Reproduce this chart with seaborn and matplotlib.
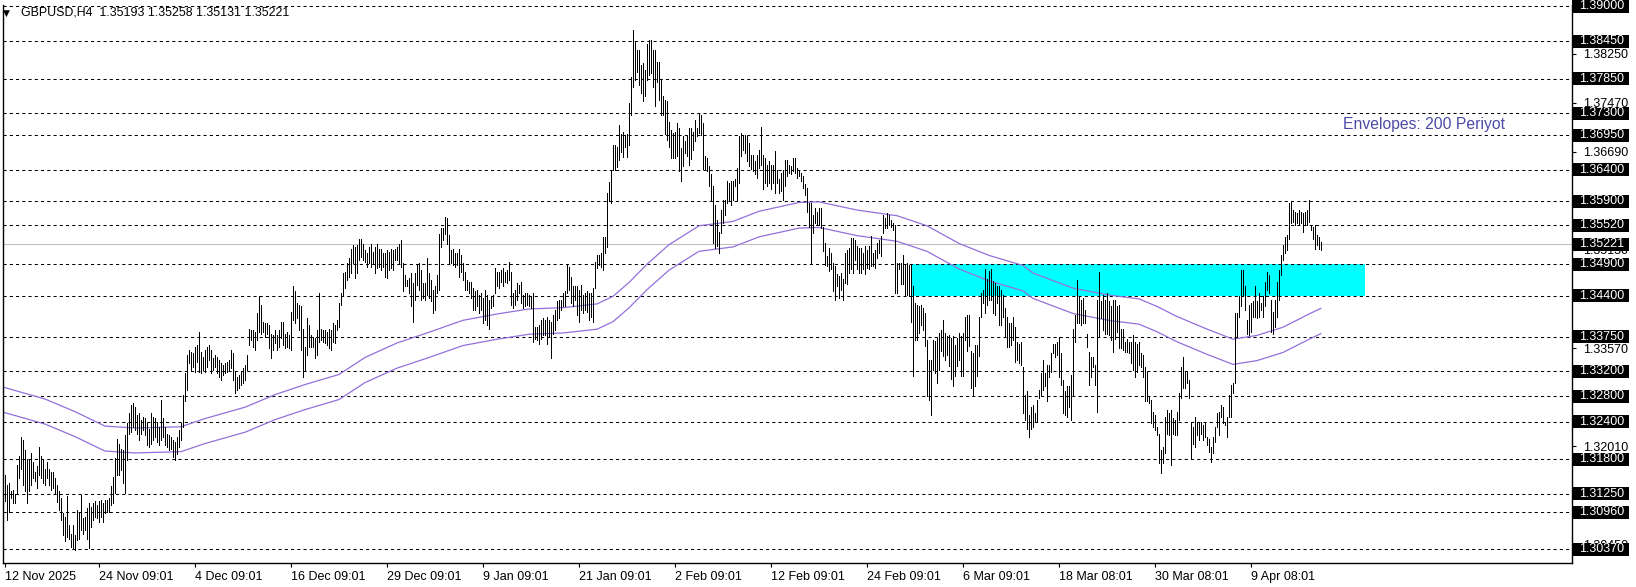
import matplotlib
matplotlib.use("Agg")
import matplotlib.pyplot as plt
import matplotlib.transforms as mtransforms
from matplotlib.patches import Rectangle
import numpy as np
import seaborn as sns

# ---------------- DATA ----------------
symbol_title = "GBPUSD,H4  1.35193 1.35258 1.35131 1.35221"
last_price = 1.35221

# bar highs (H4 bars, left to right)
highs = [
    1.3155, 1.3140, 1.3142, 1.3130, 1.3131, 1.3125, 1.3171, 1.3185, 1.3216, 1.3210,
    1.3195, 1.3180, 1.3180, 1.3190, 1.3175, 1.3160, 1.3170, 1.3200, 1.3185, 1.3180,
    1.3165, 1.3175, 1.3165, 1.3160, 1.3160, 1.3150, 1.3140, 1.3130, 1.3118, 1.3095,
    1.3088, 1.3121, 1.3076, 1.3062, 1.3076, 1.3060, 1.3100, 1.3094, 1.3123, 1.3086,
    1.3089, 1.3102, 1.3110, 1.3105, 1.3110, 1.3113, 1.3107, 1.3113, 1.3115, 1.3110,
    1.3115, 1.3115, 1.3118, 1.3137, 1.3152, 1.3182, 1.3213, 1.3205, 1.3197, 1.3195,
    1.3219, 1.3237, 1.3253, 1.3266, 1.3269, 1.3264, 1.3251, 1.3253, 1.3243, 1.3248,
    1.3245, 1.3237, 1.3229, 1.3253, 1.3248, 1.3245, 1.3240, 1.3232, 1.3274, 1.3245,
    1.3232, 1.3221, 1.3219, 1.3216, 1.3211, 1.3208, 1.3216, 1.3227, 1.3237, 1.3282,
    1.3317, 1.3346, 1.3354, 1.3351, 1.3349, 1.3359, 1.3362, 1.3383, 1.3351, 1.3343,
    1.3354, 1.3359, 1.3362, 1.3354, 1.3341, 1.3346, 1.3343, 1.3338, 1.3333, 1.3330,
    1.3333, 1.3335, 1.3338, 1.3354, 1.3349, 1.3319, 1.3311, 1.3314, 1.3319, 1.3325,
    1.3330, 1.3346, 1.3388, 1.3386, 1.3386, 1.3383, 1.3412, 1.3439, 1.3426, 1.3399,
    1.3396, 1.3396, 1.3394, 1.3380, 1.3378, 1.3386, 1.3378, 1.3386, 1.3399, 1.3399,
    1.3380, 1.3383, 1.3378, 1.3415, 1.3455, 1.3447, 1.3428, 1.3426, 1.3423, 1.3388,
    1.3359, 1.3404, 1.3394, 1.3378, 1.3375, 1.3373, 1.3386, 1.3444, 1.3388, 1.3386,
    1.3386, 1.3383, 1.3388, 1.3386, 1.3396, 1.3394, 1.3402, 1.3428, 1.3444, 1.3476,
    1.3478, 1.3492, 1.3500, 1.3515, 1.3521, 1.3518, 1.3521, 1.3531, 1.3531, 1.3523,
    1.3513, 1.3508, 1.3518, 1.3523, 1.3510, 1.3518, 1.3523, 1.3515, 1.3515, 1.3508,
    1.3508, 1.3513, 1.3510, 1.3515, 1.3513, 1.3515, 1.3518, 1.3523, 1.3529, 1.3492,
    1.3473, 1.3465, 1.3468, 1.3476, 1.3460, 1.3476, 1.3489, 1.3492, 1.3481, 1.3460,
    1.3460, 1.3500, 1.3476, 1.3465, 1.3449, 1.3455, 1.3473, 1.3539, 1.3547, 1.3547,
    1.3566, 1.3563, 1.3537, 1.3513, 1.3515, 1.3508, 1.3508, 1.3515, 1.3505, 1.3492,
    1.3478, 1.3465, 1.3462, 1.3462, 1.3452, 1.3447, 1.3449, 1.3441, 1.3444, 1.3436,
    1.3449, 1.3441, 1.3433, 1.3439, 1.3441, 1.3484, 1.3478, 1.3478, 1.3481, 1.3484,
    1.3478, 1.3481, 1.3494, 1.3478, 1.3444, 1.3449, 1.3460, 1.3457, 1.3462, 1.3441,
    1.3444, 1.3444, 1.3441, 1.3439, 1.3444, 1.3391, 1.3391, 1.3394, 1.3402, 1.3404,
    1.3402, 1.3407, 1.3402, 1.3399, 1.3410, 1.3417, 1.3431, 1.3433, 1.3433, 1.3444,
    1.3447, 1.3489, 1.3486, 1.3470, 1.3455, 1.3455, 1.3455, 1.3449, 1.3457, 1.3441,
    1.3444, 1.3447, 1.3444, 1.3444, 1.3452, 1.3494, 1.3505, 1.3505, 1.3508, 1.3534,
    1.3534, 1.3603, 1.3621, 1.3640, 1.3680, 1.3680, 1.3677, 1.3712, 1.3698, 1.3701,
    1.3696, 1.3698, 1.3746, 1.3788, 1.3863, 1.3844, 1.3831, 1.3831, 1.3807, 1.3810,
    1.3799, 1.3841, 1.3847, 1.3847, 1.3831, 1.3831, 1.3812, 1.3812, 1.3783, 1.3757,
    1.3751, 1.3749, 1.3717, 1.3703, 1.3699, 1.3701, 1.3715, 1.3707, 1.3675, 1.3694,
    1.3686, 1.3694, 1.3707, 1.3707, 1.3701, 1.3720, 1.3707, 1.3731, 1.3728, 1.3715,
    1.3662, 1.3659, 1.3646, 1.3633, 1.3614, 1.3585, 1.3561, 1.3542, 1.3577, 1.3593,
    1.3593, 1.3622, 1.3619, 1.3622, 1.3622, 1.3625, 1.3643, 1.3694, 1.3699, 1.3694,
    1.3696, 1.3694, 1.3683, 1.3664, 1.3664, 1.3654, 1.3664, 1.3672, 1.3709, 1.3664,
    1.3659, 1.3648, 1.3654, 1.3648, 1.3648, 1.3670, 1.3640, 1.3625, 1.3635, 1.3640,
    1.3656, 1.3656, 1.3648, 1.3646, 1.3659, 1.3659, 1.3643, 1.3640, 1.3635, 1.3630,
    1.3617, 1.3611, 1.3588, 1.3588, 1.3569, 1.3580, 1.3574, 1.3580, 1.3580, 1.3550,
    1.3524, 1.3503, 1.3516, 1.3508, 1.3492, 1.3487, 1.3474, 1.3471, 1.3476, 1.3466,
    1.3508, 1.3513, 1.3516, 1.3532, 1.3532, 1.3529, 1.3519, 1.3516, 1.3516, 1.3508,
    1.3519, 1.3513, 1.3519, 1.3535, 1.3508, 1.3513, 1.3524, 1.3529, 1.3535, 1.3569,
    1.3564, 1.3572, 1.3569, 1.3561, 1.3556, 1.3553, 1.3492, 1.3492, 1.3492, 1.3505,
    1.3489, 1.3492, 1.3489, 1.3489, 1.3455, 1.3429, 1.3426, 1.3423, 1.3426, 1.3421,
    1.3413, 1.3370, 1.3338, 1.3338, 1.3370, 1.3368, 1.3373, 1.3381, 1.3386, 1.3402,
    1.3381, 1.3376, 1.3378, 1.3373, 1.3376, 1.3362, 1.3373, 1.3381, 1.3376, 1.3381,
    1.3407, 1.3410, 1.3410, 1.3352, 1.3349, 1.3362, 1.3362, 1.3407, 1.3444, 1.3450,
    1.3482, 1.3466, 1.3479, 1.3482, 1.3463, 1.3460, 1.3455, 1.3455, 1.3449, 1.3441,
    1.3420, 1.3407, 1.3396, 1.3396, 1.3407, 1.3391, 1.3367, 1.3364, 1.3367, 1.3327,
    1.3282, 1.3288, 1.3250, 1.3264, 1.3266, 1.3253, 1.3274, 1.3290, 1.3317, 1.3338,
    1.3317, 1.3330, 1.3330, 1.3349, 1.3364, 1.3364, 1.3367, 1.3375, 1.3349, 1.3306,
    1.3288, 1.3296, 1.3296, 1.3314, 1.3388, 1.3409, 1.3465, 1.3439, 1.3433, 1.3436,
    1.3417, 1.3380, 1.3351, 1.3343, 1.3343, 1.3330, 1.3433, 1.3478, 1.3431, 1.3441,
    1.3433, 1.3444, 1.3431, 1.3423, 1.3433, 1.3433, 1.3423, 1.3425, 1.3388, 1.3388,
    1.3367, 1.3372, 1.3367, 1.3367, 1.3378, 1.3367, 1.3364, 1.3367, 1.3349, 1.3346,
    1.3327, 1.3319, 1.3280, 1.3274, 1.3256, 1.3250, 1.3232, 1.3221, 1.3195, 1.3200,
    1.3248, 1.3258, 1.3253, 1.3258, 1.3245, 1.3243, 1.3256, 1.3285, 1.3327, 1.3343,
    1.3319, 1.3319, 1.3306, 1.3237, 1.3232, 1.3248, 1.3240, 1.3240, 1.3240, 1.3235,
    1.3237, 1.3216, 1.3213, 1.3200, 1.3216, 1.3232, 1.3253, 1.3256, 1.3266, 1.3264,
    1.3240, 1.3248, 1.3282, 1.3298, 1.3301, 1.3412, 1.3412, 1.3439, 1.3481, 1.3481,
    1.3455, 1.3402, 1.3425, 1.3428, 1.3431, 1.3455, 1.3431, 1.3444, 1.3428, 1.3439,
    1.3462, 1.3478, 1.3473, 1.3433, 1.3415, 1.3433, 1.3462, 1.3481, 1.3505, 1.3521,
    1.3534, 1.3537, 1.3587, 1.3590, 1.3576, 1.3574, 1.3571, 1.3576, 1.3574, 1.3571,
    1.3574, 1.3576, 1.3592, 1.3553, 1.3550, 1.3553, 1.3537, 1.3534, 1.35258,
]

# bar lows
lows = [
    1.3113, 1.3084, 1.3097, 1.3118, 1.3110, 1.3110, 1.3125, 1.3150, 1.3165, 1.3140,
    1.3130, 1.3110, 1.3130, 1.3140, 1.3150, 1.3145, 1.3135, 1.3155, 1.3150, 1.3142,
    1.3140, 1.3150, 1.3140, 1.3132, 1.3135, 1.3127, 1.3112, 1.3100, 1.3083, 1.3060,
    1.3050, 1.3057, 1.3054, 1.3041, 1.3039, 1.3036, 1.3052, 1.3054, 1.3068, 1.3062,
    1.3068, 1.3054, 1.3039, 1.3073, 1.3084, 1.3089, 1.3086, 1.3081, 1.3089, 1.3081,
    1.3094, 1.3097, 1.3097, 1.3108, 1.3110, 1.3126, 1.3155, 1.3155, 1.3163, 1.3142,
    1.3126, 1.3179, 1.3221, 1.3224, 1.3232, 1.3227, 1.3221, 1.3211, 1.3221, 1.3227,
    1.3219, 1.3203, 1.3200, 1.3205, 1.3211, 1.3216, 1.3208, 1.3203, 1.3211, 1.3216,
    1.3203, 1.3200, 1.3195, 1.3197, 1.3184, 1.3179, 1.3189, 1.3200, 1.3211, 1.3232,
    1.3272, 1.3290, 1.3333, 1.3322, 1.3327, 1.3319, 1.3335, 1.3319, 1.3317, 1.3322,
    1.3319, 1.3327, 1.3338, 1.3317, 1.3322, 1.3327, 1.3317, 1.3311, 1.3306, 1.3314,
    1.3317, 1.3319, 1.3322, 1.3325, 1.3306, 1.3285, 1.3290, 1.3293, 1.3298, 1.3301,
    1.3306, 1.3322, 1.3362, 1.3370, 1.3359, 1.3354, 1.3370, 1.3383, 1.3380, 1.3383,
    1.3375, 1.3380, 1.3357, 1.3341, 1.3354, 1.3365, 1.3354, 1.3359, 1.3373, 1.3362,
    1.3357, 1.3359, 1.3357, 1.3354, 1.3402, 1.3396, 1.3404, 1.3386, 1.3354, 1.3311,
    1.3322, 1.3346, 1.3359, 1.3359, 1.3359, 1.3341, 1.3346, 1.3367, 1.3370, 1.3367,
    1.3365, 1.3362, 1.3357, 1.3354, 1.3367, 1.3365, 1.3386, 1.3391, 1.3425, 1.3439,
    1.3452, 1.3465, 1.3470, 1.3476, 1.3492, 1.3468, 1.3476, 1.3497, 1.3502, 1.3497,
    1.3494, 1.3486, 1.3492, 1.3486, 1.3492, 1.3476, 1.3484, 1.3486, 1.3481, 1.3486,
    1.3470, 1.3468, 1.3481, 1.3484, 1.3481, 1.3497, 1.3497, 1.3492, 1.3486, 1.3447,
    1.3455, 1.3455, 1.3444, 1.3423, 1.3399, 1.3433, 1.3457, 1.3449, 1.3433, 1.3436,
    1.3433, 1.3441, 1.3436, 1.3431, 1.3412, 1.3417, 1.3444, 1.3449, 1.3518, 1.3529,
    1.3539, 1.3523, 1.3492, 1.3492, 1.3489, 1.3486, 1.3489, 1.3470, 1.3478, 1.3465,
    1.3449, 1.3449, 1.3444, 1.3436, 1.3417, 1.3417, 1.3423, 1.3412, 1.3417, 1.3396,
    1.3402, 1.3394, 1.3388, 1.3420, 1.3423, 1.3444, 1.3455, 1.3452, 1.3462, 1.3455,
    1.3462, 1.3460, 1.3465, 1.3425, 1.3420, 1.3425, 1.3433, 1.3444, 1.3428, 1.3420,
    1.3423, 1.3425, 1.3423, 1.3420, 1.3367, 1.3372, 1.3370, 1.3364, 1.3372, 1.3378,
    1.3378, 1.3364, 1.3375, 1.3341, 1.3380, 1.3386, 1.3402, 1.3404, 1.3417, 1.3423,
    1.3423, 1.3444, 1.3449, 1.3428, 1.3423, 1.3433, 1.3410, 1.3399, 1.3417, 1.3412,
    1.3417, 1.3415, 1.3402, 1.3407, 1.3399, 1.3452, 1.3484, 1.3489, 1.3486, 1.3481,
    1.3508, 1.3518, 1.3590, 1.3587, 1.3640, 1.3640, 1.3645, 1.3656, 1.3669, 1.3661,
    1.3677, 1.3661, 1.3680, 1.3727, 1.3772, 1.3783, 1.3796, 1.3775, 1.3762, 1.3749,
    1.3757, 1.3783, 1.3791, 1.3794, 1.3772, 1.3741, 1.3780, 1.3751, 1.3727, 1.3727,
    1.3698, 1.3688, 1.3677, 1.3659, 1.3659, 1.3659, 1.3662, 1.3638, 1.3622, 1.3646,
    1.3667, 1.3662, 1.3648, 1.3657, 1.3672, 1.3686, 1.3694, 1.3699, 1.3696, 1.3641,
    1.3641, 1.3638, 1.3614, 1.3593, 1.3524, 1.3516, 1.3519, 1.3508, 1.3540, 1.3556,
    1.3569, 1.3588, 1.3593, 1.3585, 1.3593, 1.3614, 1.3593, 1.3619, 1.3662, 1.3672,
    1.3667, 1.3654, 1.3646, 1.3641, 1.3638, 1.3633, 1.3627, 1.3643, 1.3648, 1.3609,
    1.3619, 1.3614, 1.3619, 1.3609, 1.3619, 1.3603, 1.3619, 1.3603, 1.3606, 1.3593,
    1.3614, 1.3630, 1.3635, 1.3633, 1.3638, 1.3635, 1.3627, 1.3630, 1.3622, 1.3611,
    1.3601, 1.3574, 1.3550, 1.3492, 1.3540, 1.3556, 1.3553, 1.3553, 1.3548, 1.3511,
    1.3489, 1.3487, 1.3479, 1.3482, 1.3447, 1.3434, 1.3455, 1.3437, 1.3450, 1.3434,
    1.3460, 1.3458, 1.3476, 1.3482, 1.3476, 1.3497, 1.3482, 1.3476, 1.3476, 1.3482,
    1.3474, 1.3484, 1.3482, 1.3487, 1.3487, 1.3484, 1.3500, 1.3508, 1.3503, 1.3540,
    1.3548, 1.3548, 1.3553, 1.3550, 1.3545, 1.3444, 1.3444, 1.3482, 1.3458, 1.3458,
    1.3442, 1.3442, 1.3439, 1.3399, 1.3312, 1.3370, 1.3370, 1.3381, 1.3394, 1.3386,
    1.3360, 1.3280, 1.3275, 1.3251, 1.3322, 1.3317, 1.3301, 1.3322, 1.3352, 1.3344,
    1.3338, 1.3346, 1.3328, 1.3307, 1.3296, 1.3312, 1.3328, 1.3338, 1.3312, 1.3312,
    1.3370, 1.3352, 1.3360, 1.3293, 1.3283, 1.3296, 1.3312, 1.3344, 1.3407, 1.3429,
    1.3413, 1.3426, 1.3434, 1.3434, 1.3413, 1.3409, 1.3428, 1.3394, 1.3394, 1.3407,
    1.3375, 1.3359, 1.3359, 1.3362, 1.3370, 1.3335, 1.3338, 1.3333, 1.3330, 1.3253,
    1.3243, 1.3229, 1.3216, 1.3229, 1.3232, 1.3240, 1.3240, 1.3277, 1.3280, 1.3290,
    1.3296, 1.3272, 1.3311, 1.3319, 1.3349, 1.3343, 1.3346, 1.3311, 1.3298, 1.3253,
    1.3250, 1.3247, 1.3264, 1.3243, 1.3280, 1.3367, 1.3396, 1.3396, 1.3394, 1.3396,
    1.3396, 1.3359, 1.3298, 1.3311, 1.3327, 1.3298, 1.3256, 1.3375, 1.3404, 1.3386,
    1.3380, 1.3380, 1.3378, 1.3370, 1.3351, 1.3372, 1.3383, 1.3357, 1.3357, 1.3354,
    1.3351, 1.3351, 1.3349, 1.3333, 1.3322, 1.3311, 1.3319, 1.3330, 1.3327, 1.3311,
    1.3272, 1.3272, 1.3269, 1.3237, 1.3232, 1.3227, 1.3219, 1.3174, 1.3158, 1.3174,
    1.3190, 1.3221, 1.3219, 1.3171, 1.3221, 1.3219, 1.3219, 1.3243, 1.3277, 1.3293,
    1.3293, 1.3301, 1.3277, 1.3182, 1.3205, 1.3200, 1.3219, 1.3211, 1.3221, 1.3211,
    1.3216, 1.3203, 1.3192, 1.3176, 1.3190, 1.3208, 1.3232, 1.3219, 1.3247, 1.3237,
    1.3235, 1.3216, 1.3248, 1.3248, 1.3285, 1.3301, 1.3375, 1.3407, 1.3423, 1.3439,
    1.3417, 1.3380, 1.3378, 1.3383, 1.3407, 1.3407, 1.3404, 1.3407, 1.3417, 1.3407,
    1.3423, 1.3449, 1.3444, 1.3383, 1.3380, 1.3391, 1.3407, 1.3433, 1.3473, 1.3497,
    1.3508, 1.3513, 1.3531, 1.3555, 1.3558, 1.3553, 1.3555, 1.3553, 1.3555, 1.3542,
    1.3553, 1.3553, 1.3558, 1.3545, 1.3531, 1.3515, 1.3521, 1.3515, 1.35131,
]

# 200-period moving average behind the Envelopes indicator (read at sample bars)
ma_index = [-1, 20, 35, 50, 65, 88, 100, 120, 135, 150, 167, 180, 196, 212, 229,
            246, 262, 279, 296, 304, 312, 321, 332, 347, 364, 377, 397, 407, 426,
            446, 461, 477, 492, 509, 514, 534, 552, 567, 576, 586, 601, 614, 626,
            639, 652, 658]
ma_values = [1.3275, 1.3256, 1.3236, 1.3213, 1.3210, 1.3212, 1.3225, 1.3243, 1.3263,
             1.3279, 1.3295, 1.3322, 1.3345, 1.3362, 1.3381, 1.3391, 1.3399, 1.3401,
             1.3407, 1.3419, 1.3441, 1.3470, 1.3501, 1.3531, 1.3538, 1.3554, 1.3568,
             1.3569, 1.3556, 1.3547, 1.3531, 1.3503, 1.3484, 1.3468, 1.3456, 1.3432,
             1.3421, 1.3415, 1.3403, 1.3387, 1.3367, 1.3351, 1.3357, 1.3370, 1.3391,
             1.3400]
envelope_deviation_pct = 0.15
envelope_label = "Envelopes: 200 Periyot"

# horizontal dashed levels (labelled in black boxes on the price scale)
levels = [1.3900, 1.3845, 1.3785, 1.3730, 1.3695, 1.3640, 1.3590, 1.3552, 1.3490,
          1.3440, 1.3375, 1.3320, 1.3280, 1.3240, 1.3180, 1.3125, 1.3096, 1.3037]

# price scale ticks (labels of ticks fully covered by level boxes are not visible)
scale_ticks = [1.3825, 1.3747, 1.3669, 1.3591, 1.3513, 1.3435, 1.3357, 1.3279,
               1.3201, 1.3123, 1.3045]
scale_labels = ["1.38250", "1.37470", "1.36690", "", "1.35130", "", "1.33570", "",
                "1.32010", "", "1.30450"]

# cyan zone
zone_start, zone_end = 452.8, 680.0
zone_low, zone_high = 1.3440, 1.3490

# time axis
xtick_pos = [0, 47, 95, 143, 191, 239, 287, 335, 383, 431, 479, 527, 575, 623]
xtick_labels = ["12 Nov 2025", "24 Nov 09:01", "4 Dec 09:01", "16 Dec 09:01",
                "29 Dec 09:01", "9 Jan 09:01", "21 Jan 09:01", "2 Feb 09:01",
                "12 Feb 09:01", "24 Feb 09:01", "6 Mar 09:01", "18 Mar 08:01",
                "30 Mar 08:01", "9 Apr 08:01"]

# ---------------- PLOT ----------------
sns.set_style("white")
plt.rcParams["font.family"] = ["Liberation Sans", "DejaVu Sans"]

W, H = 1636, 587
fig = plt.figure(figsize=(W / 100, H / 100), dpi=100)
ax_l, ax_r, ax_t, ax_b = 2.5, 1572.0, 5.0, 562.7
ax = fig.add_axes([ax_l / W, (H - ax_b) / H, (ax_r - ax_l) / W, (ax_b - ax_t) / H])
ax_w_px = ax_r - ax_l
ax.set_facecolor("white")

n = min(len(highs), len(lows))
idx = np.arange(n)
hi = np.array(highs[:n])
lo = np.array(lows[:n])

# zone
ax.add_patch(Rectangle((zone_start, zone_low), zone_end - zone_start,
                       zone_high - zone_low, facecolor="#00FFFF",
                       edgecolor="none", zorder=0.5))

# dashed levels
for lv in levels:
    ax.axhline(lv, color="black", linewidth=0.75, linestyle=(0, (3, 3)),
               zorder=1)
# current price line
ax.axhline(last_price, color="#C0C0C0", linewidth=0.75, zorder=1)

# envelopes
ma_i = np.array(ma_index, dtype=float)
ma_v = np.array(ma_values)
dev = envelope_deviation_pct / 100.0
for arr in (ma_v * (1 + dev), ma_v * (1 - dev)):
    sns.lineplot(x=ma_i, y=arr, ax=ax, color="#9370DB", linewidth=0.9,
                 estimator=None, sort=False, legend=False, zorder=2)

# bars
ax.vlines(idx, lo, hi, colors="black", linewidth=0.6, antialiased=False,
          zorder=3)

# limits
ax.set_xlim(-1.25, 783.5)
ax.set_ylim(1.30157, 1.39023)

# spines
for s in ("left", "bottom", "right"):
    ax.spines[s].set_visible(True)
    ax.spines[s].set_color("black")
    ax.spines[s].set_linewidth(1.0)
ax.spines["top"].set_visible(False)

# x ticks
ax.set_xticks(xtick_pos)
ax.set_xticklabels(xtick_labels, fontsize=9)
for lab in ax.get_xticklabels():
    lab.set_horizontalalignment("left")
ax.tick_params(axis="x", direction="out", length=3, width=0.8, pad=3,
               colors="black", bottom=True)

# y ticks on right
ax.yaxis.tick_right()
ax.set_yticks(scale_ticks)
ax.set_yticklabels(scale_labels, fontsize=9)
ax.tick_params(axis="y", direction="out", length=3, width=0.8, pad=5,
               colors="black", right=True, left=False)

# level boxes
trans = mtransforms.blended_transform_factory(ax.transAxes, ax.transData)
px_per_unit = (ax_b - ax_t) / (1.39023 - 1.30157)
box_h = 13 / px_per_unit
box_w = 57 / ax_w_px
for lv in levels + [last_price]:
    ax.add_patch(Rectangle((1.0, lv - box_h / 2), box_w, box_h, transform=trans,
                           facecolor="black", edgecolor="none", clip_on=False,
                           zorder=6))
    ax.text(1.0 + 7 / ax_w_px, lv, "%.5f" % lv, transform=trans, color="white",
            fontsize=9, ha="left", va="center", clip_on=False, zorder=7)

# indicator label
ax.text(669, 1.3713, envelope_label, color="#4B4BA6", fontsize=11.3,
        ha="left", va="center", zorder=4)

# title
fig.text(3 / W, 1 - 13 / H, "\u25BC", fontsize=6.5, ha="left", va="center",
         color="black", family=["DejaVu Sans"])
fig.text(21 / W, 1 - 12.5 / H, symbol_title, fontsize=8.9, ha="left",
         va="center", color="black")

fig.savefig("out.png", dpi=100, facecolor="white")
